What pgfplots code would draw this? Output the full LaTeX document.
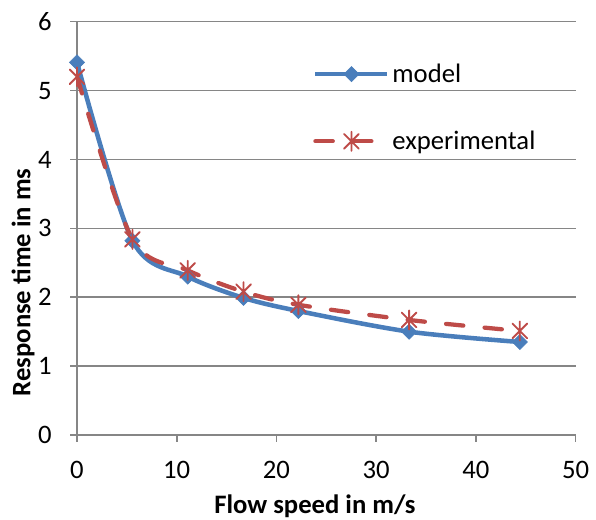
\documentclass[border=0pt]{standalone}
\usepackage{fontspec}
\setmainfont{Carlito}
\usepackage{pgfplots}
\pgfplotsset{compat=1.18}
\definecolor{modelblue}{HTML}{4A7EBB}
\definecolor{expred}{HTML}{BE4B48}
\definecolor{axisgray}{HTML}{868686}
% Excel style asterisk: an x with a vertical bar
\pgfdeclareplotmark{xbar}{%
  \pgfpathmoveto{\pgfqpoint{-\pgfplotmarksize}{-\pgfplotmarksize}}%
  \pgfpathlineto{\pgfqpoint{\pgfplotmarksize}{\pgfplotmarksize}}%
  \pgfpathmoveto{\pgfqpoint{-\pgfplotmarksize}{\pgfplotmarksize}}%
  \pgfpathlineto{\pgfqpoint{\pgfplotmarksize}{-\pgfplotmarksize}}%
  \pgfpathmoveto{\pgfqpoint{0pt}{-1.3\pgfplotmarksize}}%
  \pgfpathlineto{\pgfqpoint{0pt}{1.3\pgfplotmarksize}}%
  \pgfusepathqstroke}
\begin{document}
\begin{tikzpicture}
\useasboundingbox (-57.75pt,-63.75pt) rectangle (389.25pt,326.25pt);
\begin{axis}[
  width=374pt, height=310pt,
  scale only axis,
  xmin=0, xmax=50, ymin=0, ymax=6,
  xtick={0,10,...,50}, ytick={0,1,...,6},
  axis x line=bottom, axis y line=left,
  axis line style={axisgray, line width=1.2pt, -},
  tick style={axisgray, line width=1.2pt},
  tick align=outside, major tick length=5pt,
  ymajorgrids, grid style={axisgray, line width=1.2pt},
  tick label style={font=\fontsize{20}{24}\selectfont},
  /pgf/number format/assume math mode=true,
  xticklabel style={yshift=-11pt},
  yticklabel style={xshift=-10.5pt},
  xlabel={\textbf{Flow speed in m/s}},
  ylabel={\textbf{Response time in ms}},
  label style={font=\fontsize{20}{24}\selectfont},
  xlabel style={at={(axis description cs:0.477,-0.190)}, anchor=base},
  ylabel style={at={(axis description cs:-0.0935,0.369)}, anchor=base},
  legend style={draw=none, fill=none, at={(0.473,0.905)}, anchor=north west,
    font=\fontsize{20}{24}\selectfont, row sep=31pt, inner sep=0pt},
  legend cell align=left,
  legend image code/.code={%
    \draw[mark repeat=2, mark phase=2, #1]
      plot coordinates {(0cm,0cm) (0.95cm,0cm) (1.9cm,0cm)};},
]
\addplot[modelblue, line width=3.4pt, smooth, tension=0.5,
  mark=square*, mark size=4pt, mark options={solid, rotate=45, line width=0.5pt}]
  coordinates {
  (0,5.41) (5.56,2.82) (11.1,2.30) (16.7,1.99) (22.2,1.80) (33.3,1.50) (44.4,1.35)
  };
\addlegendentry{model}
\addplot[expred, line width=3.2pt, smooth, tension=0.5, line cap=round,
  dash pattern=on 13pt off 16pt,
  mark=xbar, mark size=5.5pt, mark options={solid, line width=1.4pt}]
  coordinates {
  (0,5.20) (5.56,2.84) (11.1,2.39) (16.7,2.08) (22.2,1.89) (33.3,1.67) (44.4,1.51)
  };
\addlegendentry{experimental}
\end{axis}
\end{tikzpicture}
\end{document}
